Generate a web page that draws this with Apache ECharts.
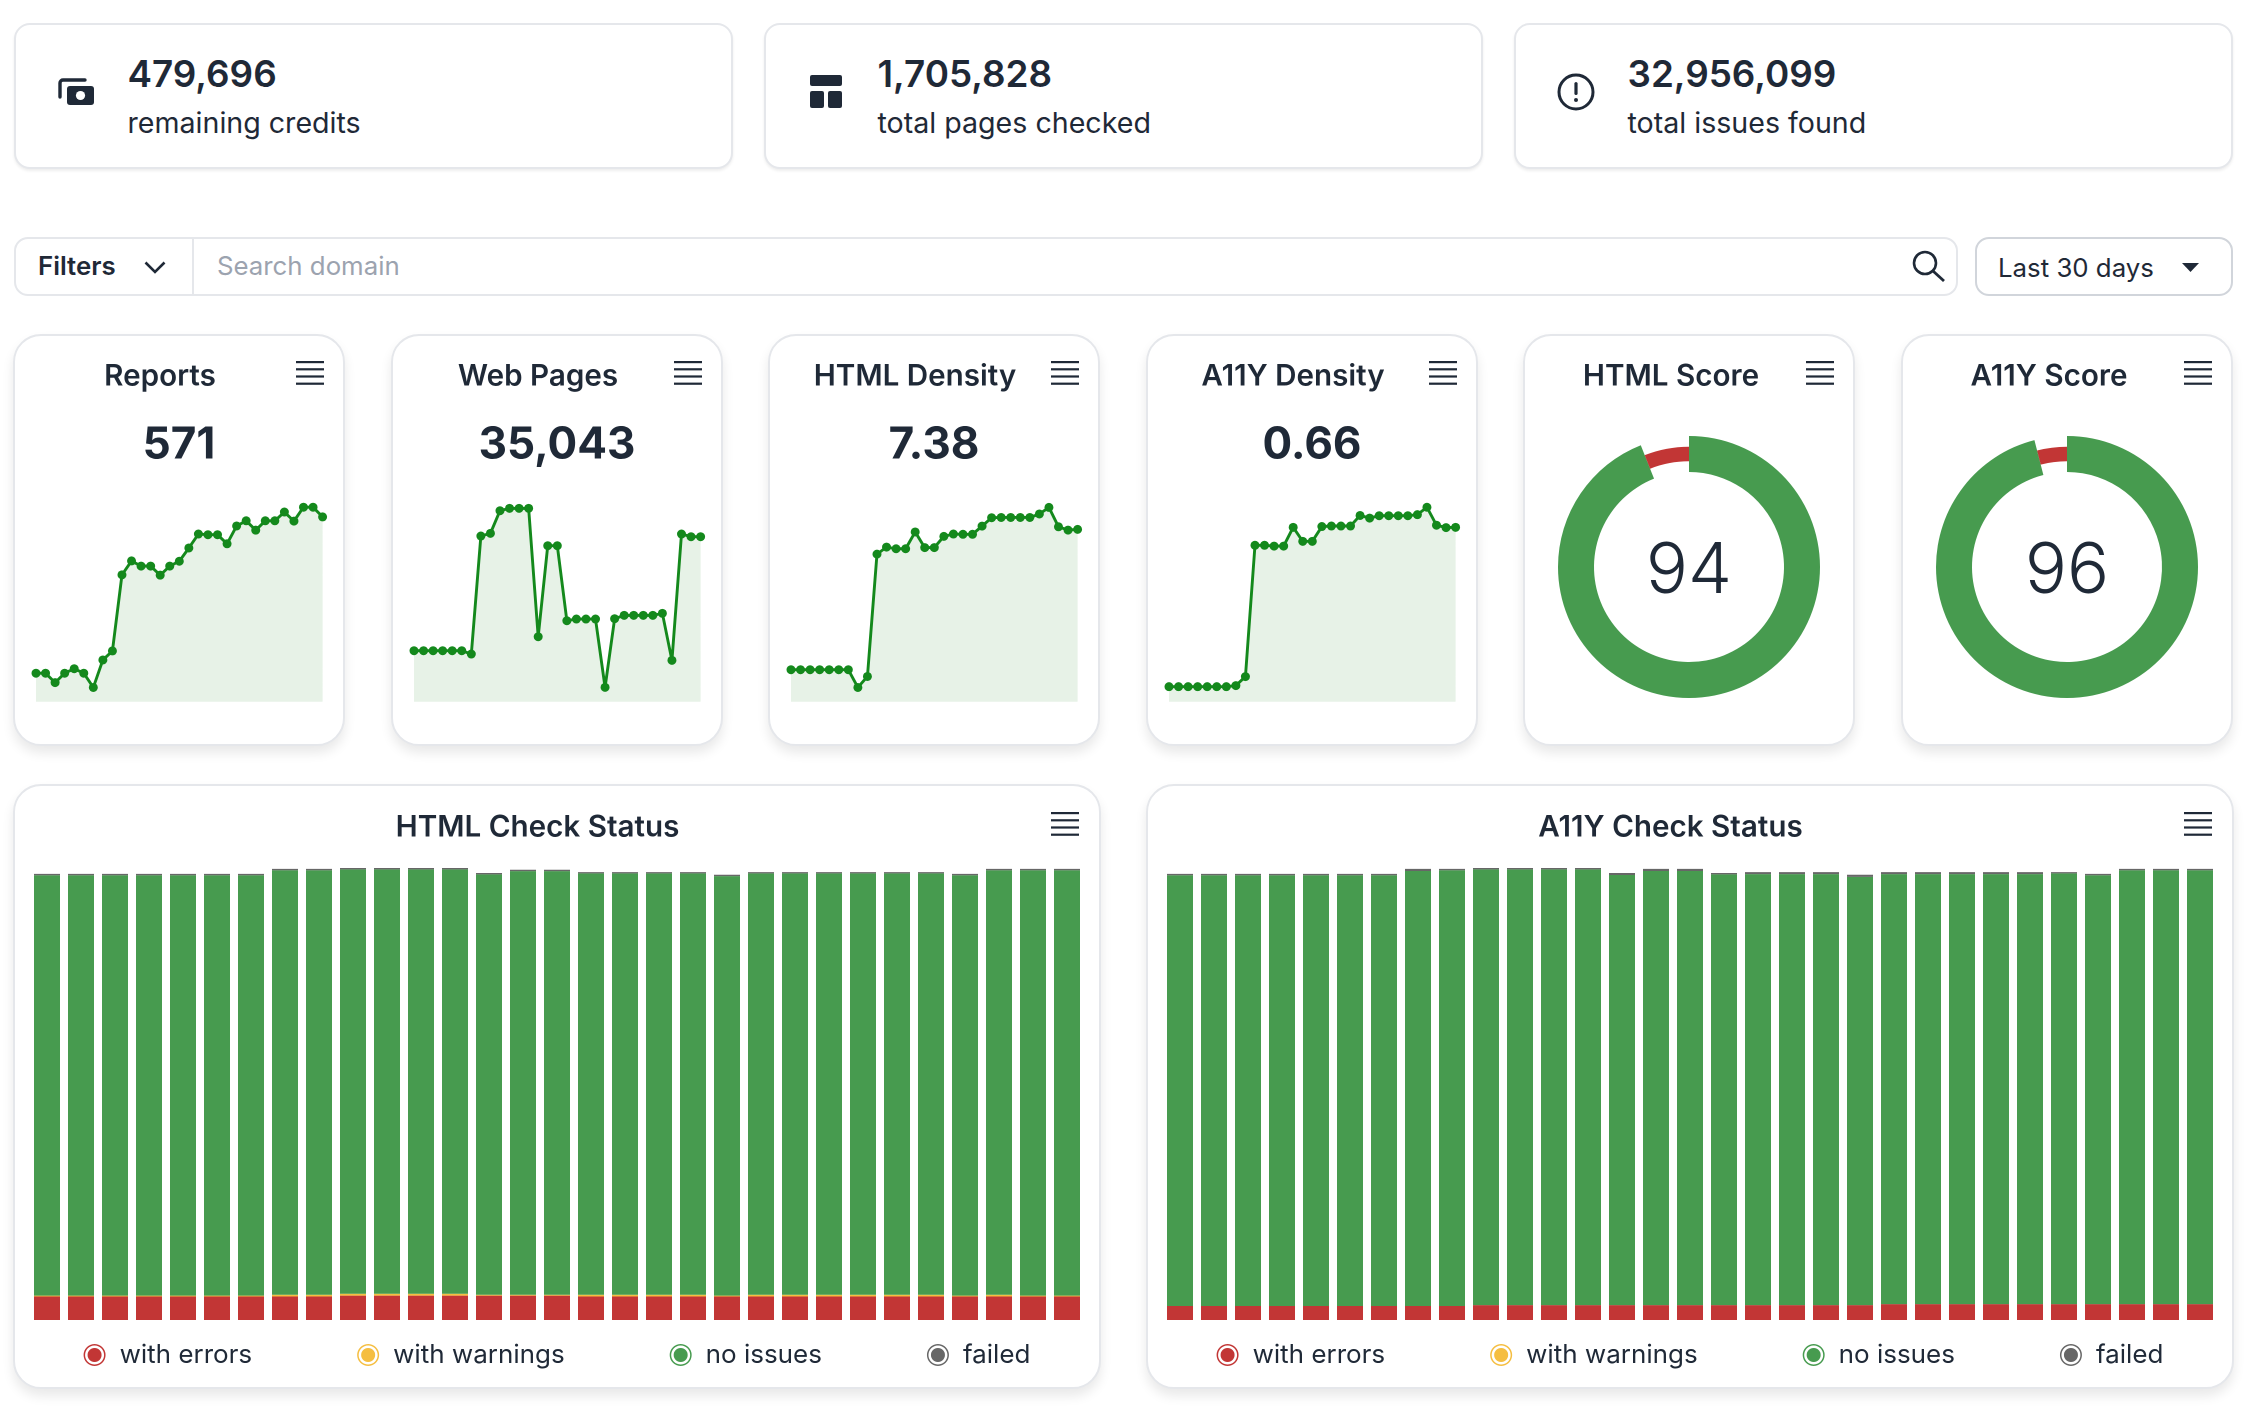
<!DOCTYPE html>
<html><head><meta charset="utf-8"><title>Dashboard</title>
<script src="https://cdn.jsdelivr.net/npm/echarts@6/dist/echarts.min.js"></script>
<style>
html,body{margin:0;padding:0;background:#fff;width:2254px;height:1411px;overflow:hidden;font-family:Inter,sans-serif;color:#1f2937}
.abs{position:absolute}
.card{position:absolute;box-sizing:border-box;background:#fff;border:2px solid #e5e7eb}
.stat{border-radius:16px;box-shadow:0 2px 3px rgba(0,0,0,.07)}
.panel{border-radius:28px;box-shadow:0 7px 12px rgba(0,0,0,.09)}
.num{position:absolute;font-size:36.8px;font-weight:600;line-height:44px;white-space:nowrap}
.lab{position:absolute;font-size:28.6px;font-weight:400;line-height:40px;white-space:nowrap}
.ui{position:absolute;font-size:25.8px;line-height:32px;white-space:nowrap}
.chart{position:absolute}
</style></head><body>
<div id="root"></div>
<script>
const days = ['1','2','3','4','5','6','7','8','9','10','11','12','13','14','15','16','17','18','19','20','21','22','23','24','25','26','27','28','29','30','31'];

const reports = [88,88,59,88,102,88,44,129,157,392,435,419,419,391,419,434,475,518,516,516,488,543,559,530,559,559,586,558,601,601,571];
const webPages = [10831,10831,10831,10831,10831,10831,10123,35183,35750,40563,41058,41058,41058,13804,33130,33130,17202,17556,17556,17556,3044,17627,18335,18335,18335,18335,18759,8778,35608,35043,35043];
const htmlDensity = [1.37,1.37,1.37,1.37,1.37,1.37,1.37,0.61,1.08,6.32,6.62,6.55,6.55,7.27,6.60,6.60,7.08,7.18,7.17,7.17,7.52,7.88,7.89,7.89,7.89,7.89,8.04,8.32,7.49,7.35,7.38];
const a11yDensity = [0.057,0.057,0.057,0.057,0.057,0.057,0.057,0.061,0.095,0.592,0.592,0.589,0.589,0.660,0.607,0.607,0.663,0.665,0.665,0.665,0.705,0.695,0.704,0.704,0.704,0.704,0.708,0.736,0.668,0.659,0.660];

const htmlScore = [94, 6];
const a11yScore = [96, 4];

const statusNames = ['with errors','with warnings','no issues','failed'];

const htmlErrors = [5.2,5.2,5.2,5.2,5.2,5.2,5.2,5.2,5.2,5.4,5.4,5.4,5.4,5.4,5.4,5.4,5.2,5.2,5.2,5.2,5.2,5.2,5.2,5.2,5.2,5.2,5.2,5.2,5.2,5.2,5.2];
const htmlWarnings = [.2,.2,.2,.2,.2,.2,.2,.4,.4,.4,.4,.4,.4,.2,.2,.2,.4,.4,.4,.4,.2,.4,.4,.4,.4,.4,.4,.2,.4,.2,.2];
const htmlClean = [93.0,93.0,93.0,93.0,93.0,93.0,93.0,93.9,93.9,93.9,93.9,93.9,93.9,93.0,93.7,93.7,93.2,93.2,93.2,93.2,92.8,93.2,93.2,93.2,93.2,93.2,93.2,93.0,93.9,94.1,94.1];
const htmlFailed = [.3,.3,.3,.3,.3,.3,.3,.3,.3,.3,.3,.3,.3,.3,.3,.3,.3,.3,.3,.3,.3,.3,.3,.3,.3,.3,.3,.3,.3,.3,.3];

const a11yErrors = [3.1,3.1,3.1,3.1,3.1,3.1,3.1,3.1,3.1,3.3,3.3,3.3,3.3,3.3,3.3,3.3,3.3,3.3,3.3,3.3,3.3,3.5,3.5,3.5,3.5,3.5,3.5,3.5,3.5,3.5,3.5];
const a11yWarnings = [0,0,0,0,0,0,0,0,0,0,0,0,0,0,0,0,0,0,0,0,0,0,0,0,0,0,0,0,0,0,0];
const a11yClean = [95.3,95.3,95.3,95.3,95.3,95.3,95.3,96.25,96.4,96.4,96.4,96.4,96.4,95.15,96.05,96.05,95.3,95.35,95.35,95.35,94.75,95.15,95.15,95.15,95.15,95.15,95.3,94.9,96.0,96.0,96.0];
const a11yFailed = [.3,.3,.3,.3,.3,.3,.3,.45,.3,.3,.3,.3,.3,.45,.45,.45,.3,.45,.45,.45,.45,.45,.45,.45,.45,.45,.3,.3,.3,.3,.3];

const INK='#1f2937', RED='#c23635', YEL='#f5be41', GRN='#479b4f', GRY='#676767', LINE='#14891c';
const FONT='Inter, sans-serif';
const root=document.getElementById('root');
function el(cls,style,html){const d=document.createElement('div');d.className=cls;d.style.cssText=style;if(html)d.innerHTML=html;root.appendChild(d);return d;}
function box(x,y,w,h){return `left:${x}px;top:${y}px;width:${w}px;height:${h}px;`;}
function svg(x,y,w,h,vb,inner){return el('abs',box(x,y,w,h),`<svg width="${w}" height="${h}" viewBox="${vb}" style="display:block">${inner}</svg>`);}
function menu(x,y){svg(x,y,28,24,'0 0 28 24',`<g fill="${INK}"><rect y="0" width="28" height="2.2"/><rect y="7.2" width="28" height="2.2"/><rect y="14.4" width="28" height="2.2"/><rect y="21.6" width="28" height="2.2"/></g>`);}

/* top stat cards */
[[14,'479,696','remaining credits'],[764,'1,705,828','total pages checked'],[1514,'32,956,099','total issues found']].forEach(s=>{
  el('card stat',box(s[0]-0.5,23,719,146));
  el('num',`left:${s[0]+113.5}px;top:52px;`,s[1]);
  el('lab',`left:${s[0]+113.5}px;top:102.5px;`,s[2]);
});
svg(58,78,37,28,'0 0 37 28',`<path d="M2 19V5a3 3 0 0 1 3-3h22" fill="none" stroke="${INK}" stroke-width="3.4" stroke-linecap="round"/><rect x="9" y="8" width="27" height="19" rx="3" fill="${INK}"/><circle cx="22.5" cy="17.5" r="4.6" fill="#fff"/>`);
svg(810,75,32,33,'0 0 32 33',`<g fill="${INK}"><rect width="32" height="11" rx="2"/><rect y="16" width="14" height="17" rx="2"/><rect x="18" y="16" width="14" height="17" rx="2"/></g>`);
svg(1557,73,38,38,'0 0 38 38',`<circle cx="19" cy="19" r="17" fill="none" stroke="${INK}" stroke-width="3"/><rect x="17.4" y="9" width="3.2" height="13" rx="1.6" fill="${INK}"/><circle cx="19" cy="27" r="2" fill="${INK}"/>`);

/* filter bar */
el('card','left:14px;top:237px;width:1944px;height:59px;border-radius:14px;');
el('abs','left:192px;top:238px;width:2px;height:57px;background:#e5e7eb;');
el('ui','left:38px;top:250px;font-weight:600;','Filters');
svg(144,261,22,13,'0 0 22 13',`<path d="M1.5 1.5 11 11 20.5 1.5" fill="none" stroke="${INK}" stroke-width="2.6"/>`);
el('ui','left:217px;top:250px;color:#9ca3af;','Search domain');
svg(1911.5,250,34,32,'0 0 34 32',`<circle cx="13" cy="13" r="11" fill="none" stroke="${INK}" stroke-width="2.6"/><path d="M21 21 32 31" stroke="${INK}" stroke-width="2.8" fill="none"/>`);
el('card','left:1974.5px;top:237px;width:258px;height:59px;border-radius:14px;border-color:#d1d5db;');
el('ui','left:1998px;top:252px;','Last 30 days');
svg(2182,263,17,9,'0 0 17 9',`<path d="M0 0H17L8.5 9Z" fill="${INK}"/>`);

/* small panels */
const panelX=[14,391.6,769.2,1146.8,1524.4,1902], PW=330, PH=411, PY=334;
function panel(x,y,w,h){el('card panel',box(x-1,y,w+2,h+1));return el('chart',box(x,y,w,h));}
function titles(name,value,cx){
  const t=[{text:name,left:cx,top:27.5,textAlign:'center',padding:0,textStyle:{fontFamily:FONT,fontSize:29.6,fontWeight:600,color:INK}}];
  if(value)t.push({text:value,left:165,top:89.5,textAlign:'center',padding:0,textStyle:{fontFamily:FONT,fontSize:44,fontWeight:700,color:INK}});
  return t;
}
function spark(i,name,value,data,axisMax){
  const d=panel(panelX[i],PY,PW,PH); menu(panelX[i]+282,PY+27);
  echarts.init(d,null,{renderer:'canvas',devicePixelRatio:2}).setOption({
    animation:false,
    title:titles(name,value,146),
    grid:{left:22,top:167.7,width:286.6,height:200},
    xAxis:{type:'category',data:days,boundaryGap:false,show:false},
    yAxis:{type:'value',min:0,max:axisMax,show:false},
    series:[{name,type:'line',data,silent:true,clip:false,symbol:'circle',symbolSize:9,showSymbol:true,showAllSymbol:true,
      lineStyle:{color:LINE,width:2.9},itemStyle:{color:LINE},areaStyle:{color:'#e7f2e7',opacity:1}}]
  });
}
function donut(i,name,data){
  const d=panel(panelX[i],PY,PW,PH); menu(panelX[i]+282,PY+27);
  const t=titles(name,null,147);
  t.push({text:String(data[0]),left:165,top:203,textAlign:'center',padding:0,textStyle:{fontFamily:FONT,fontSize:70,fontWeight:300,color:INK}});
  echarts.init(d,null,{renderer:'canvas',devicePixelRatio:2}).setOption({
    animation:false,title:t,
    series:[
      {type:'pie',center:[165,233],radius:[95,131],startAngle:90,silent:true,label:{show:false},labelLine:{show:false},
       data:[{name:'score',value:data[0],itemStyle:{color:GRN}},{name:'rest',value:data[1],itemStyle:{color:'rgba(0,0,0,0)'}}]},
      {type:'pie',center:[165,233],radius:[105.7,120.3],startAngle:90,silent:true,label:{show:false},labelLine:{show:false},
       data:[{name:'score',value:data[0],itemStyle:{color:'rgba(0,0,0,0)'}},{name:'rest',value:data[1],itemStyle:{color:RED}}]}
    ]
  });
}
spark(0,'Reports','571',reports,618);
spark(1,'Web Pages','35,043',webPages,42474);
spark(2,'HTML Density','7.38',htmlDensity,8.565);
spark(3,'A11Y Density','0.66',a11yDensity,0.757);
donut(4,'HTML Score',htmlScore);
donut(5,'A11Y Score',a11yScore);

/* status panels */
const RING='path://M11 0A11 11 0 1 1 11 22A11 11 0 1 1 11 0Z M11 1.5A9.5 9.5 0 1 0 11 20.5A9.5 9.5 0 1 0 11 1.5Z M11 4A7 7 0 1 1 11 18A7 7 0 1 1 11 4Z';
function status(x,name,e,w,c,f){
  const d=panel(x,784,1086,604); menu(x+1037,812);
  const cols=[RED,YEL,GRN,GRY];
  echarts.init(d,null,{renderer:'canvas',devicePixelRatio:2}).setOption({
    animation:false,
    title:[{text:name,left:523.5,top:28.5,textAlign:'center',padding:0,textStyle:{fontFamily:FONT,fontSize:29.6,fontWeight:600,color:INK}}],
    color:cols,
    legend:{data:statusNames.map(n=>({name:n,icon:RING})),left:'center',top:558,padding:0,itemWidth:22,itemHeight:22,itemGap:105,
      textStyle:{fontFamily:FONT,fontSize:26,color:INK,padding:[0,0,0,9]},selectedMode:false},
    grid:{left:16,top:84,width:1054,height:452},
    xAxis:{type:'category',data:days,show:false},
    yAxis:{type:'value',min:0,max:100,show:false},
    series:[e,w,c,f].map((v,i)=>({name:statusNames[i],type:'bar',stack:'all',data:v,barWidth:26,silent:true,itemStyle:{color:cols[i]}}))
  });
}
status(14,'HTML Check Status',htmlErrors,htmlWarnings,htmlClean,htmlFailed);
status(1147,'A11Y Check Status',a11yErrors,a11yWarnings,a11yClean,a11yFailed);
</script></body></html>
